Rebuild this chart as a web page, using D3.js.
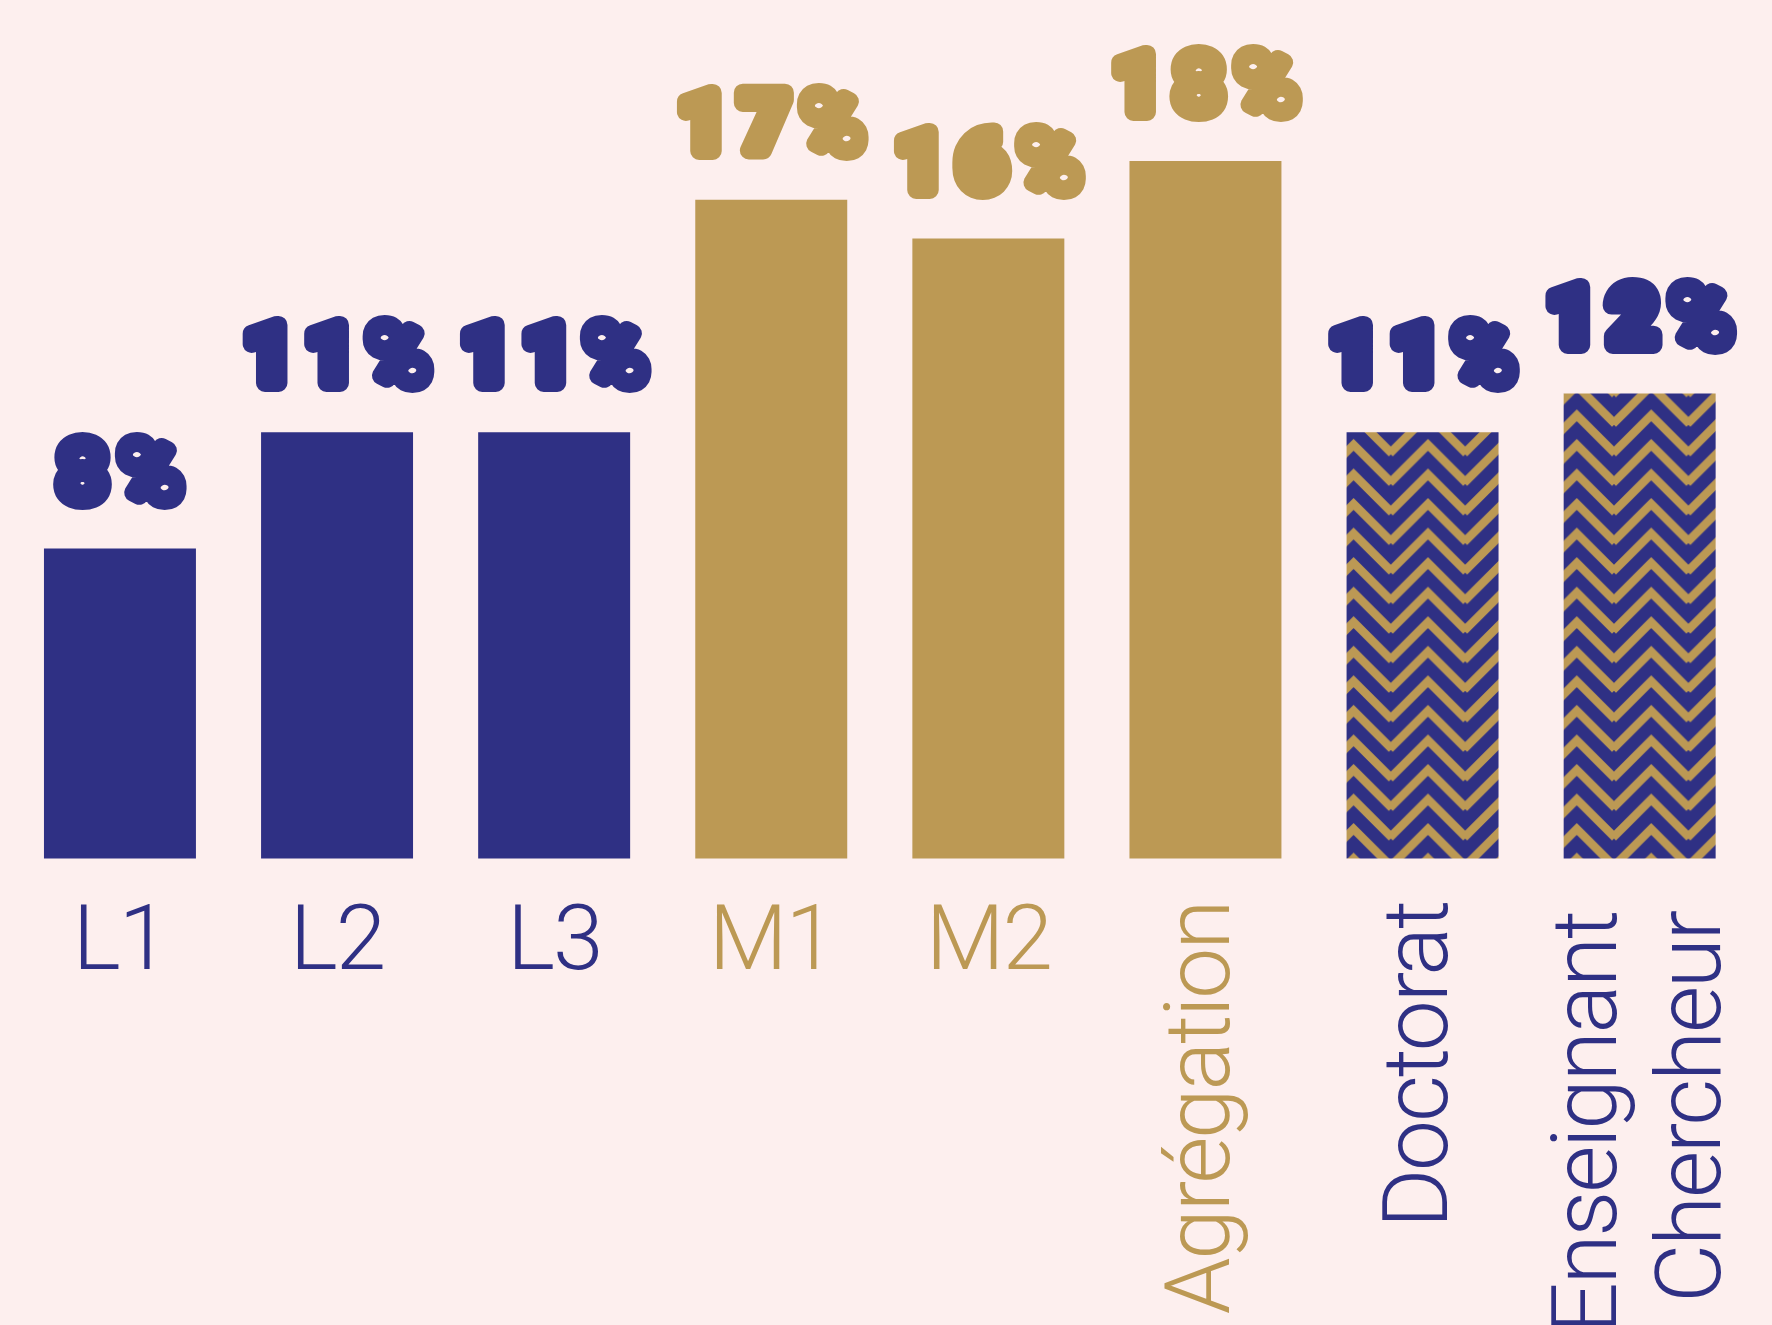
<!DOCTYPE html>
<html>
<head>
<meta charset="utf-8">
<script src="https://cdn.jsdelivr.net/npm/d3@7"></script>
<style>
  body { margin: 0; background: #fdefee; }
  svg { display: block; }
  .cat { font-family: Roboto, "Open Sans", sans-serif; font-weight: 300; }
  .pct { font-family: Roboto, "DejaVu Sans", sans-serif; font-weight: 900; }
</style>
</head>
<body>
<div id="chart"></div>
<script>
var width = 1772, height = 1325;

// data
var categories = ["L1", "L2", "L3", "M1", "M2", "Agrégation", "Doctorat", "Enseignant Chercheur"];
var values = [8, 11, 11, 17, 16, 18, 11, 12];
var groups = ["licence", "licence", "licence", "master", "master", "master", "doctorat", "doctorat"];

var navy = "#2f3084", gold = "#bc9954";
var textColor = { licence: navy, master: gold, doctorat: navy };
var barFill = { licence: navy, master: gold, doctorat: "url(#chevron)" };

var baseline = 858.5;

var svg = d3.select("#chart").append("svg")
    .attr("width", width)
    .attr("height", height);

svg.append("rect")
    .attr("width", width)
    .attr("height", height)
    .attr("fill", "#fdefee");

var x = d3.scaleBand()
    .domain(categories)
    .range([11.4, 1748.2])
    .paddingInner(0.3)
    .paddingOuter(0.15);

var y = d3.scaleLinear()
    .domain([0, 20])
    .range([baseline, baseline - 20 * 38.75]);

// chevron pattern for the doctorate bars
var pw = 74.4, ph = 29.55;
var pat = svg.append("defs").append("pattern")
    .attr("id", "chevron")
    .attr("patternUnits", "userSpaceOnUse")
    .attr("x", 1428 - pw / 2)
    .attr("y", baseline)
    .attr("width", pw)
    .attr("height", ph);
pat.append("rect").attr("width", pw).attr("height", ph).attr("fill", navy);
pat.selectAll("path").data([-2, -1, 0, 1]).enter().append("path")
    .attr("d", function(k) {
        var p = k * ph;
        return "M" + (-1) + "," + (p + pw / 2 + 1) + "L" + (pw / 2) + "," + p + "L" + (pw + 1) + "," + (p + pw / 2 + 1);
    })
    .attr("fill", "none")
    .attr("stroke", gold)
    .attr("stroke-width", 8.4)
    .attr("stroke-linejoin", "miter");

var rows = categories.map(function(c, i) {
    return { cat: c, value: values[i], group: groups[i] };
});

svg.selectAll("rect.bar").data(rows).enter().append("rect")
    .attr("class", "bar")
    .attr("x", function(d) { return x(d.cat); })
    .attr("y", function(d) { return y(d.value); })
    .attr("width", x.bandwidth())
    .attr("height", function(d) { return y(0) - y(d.value); })
    .attr("fill", function(d) { return barFill[d.group]; });

// value labels, thick round stroke to get the soft heavy look
svg.selectAll("text.pct").data(rows).enter().append("text")
    .attr("class", "pct")
    .attr("x", function(d) { return x(d.cat) + x.bandwidth() / 2 + 7; })
    .attr("y", function(d) { return y(d.value) - 49; })
    .attr("text-anchor", "middle")
    .attr("font-size", 82)
    .attr("letter-spacing", 14)
    .attr("fill", function(d) { return textColor[d.group]; })
    .attr("stroke", function(d) { return textColor[d.group]; })
    .attr("stroke-width", 18)
    .attr("stroke-linejoin", "round")
    .attr("stroke-linecap", "round")
    .text(function(d) { return d.value + "%"; });

// category labels
rows.forEach(function(d) {
    var cx = x(d.cat) + x.bandwidth() / 2;
    var color = textColor[d.group];
    if (d.cat.length <= 3) {
        svg.append("text")
            .attr("class", "cat")
            .attr("x", cx)
            .attr("y", 969)
            .attr("text-anchor", "middle")
            .attr("font-size", 91)
            .attr("letter-spacing", -2)
            .attr("fill", color)
            .text(d.cat);
    } else {
        var lines = d.cat.split(" ");
        var yEnd = 902 + (lines.length - 1) * 10;
        var g = svg.append("g")
            .attr("transform", "translate(" + cx + "," + yEnd + ") rotate(-90)");
        lines.forEach(function(line, j) {
            var off = lines.length === 1 ? 24 : -24 + j * 104;
            g.append("text")
                .attr("class", "cat")
                .attr("x", 0)
                .attr("y", off)
                .attr("text-anchor", "end")
                .attr("font-size", 91)
                .attr("letter-spacing", -2.2)
                .attr("fill", color)
                .text(line);
        });
    }
});
</script>
</body>
</html>
